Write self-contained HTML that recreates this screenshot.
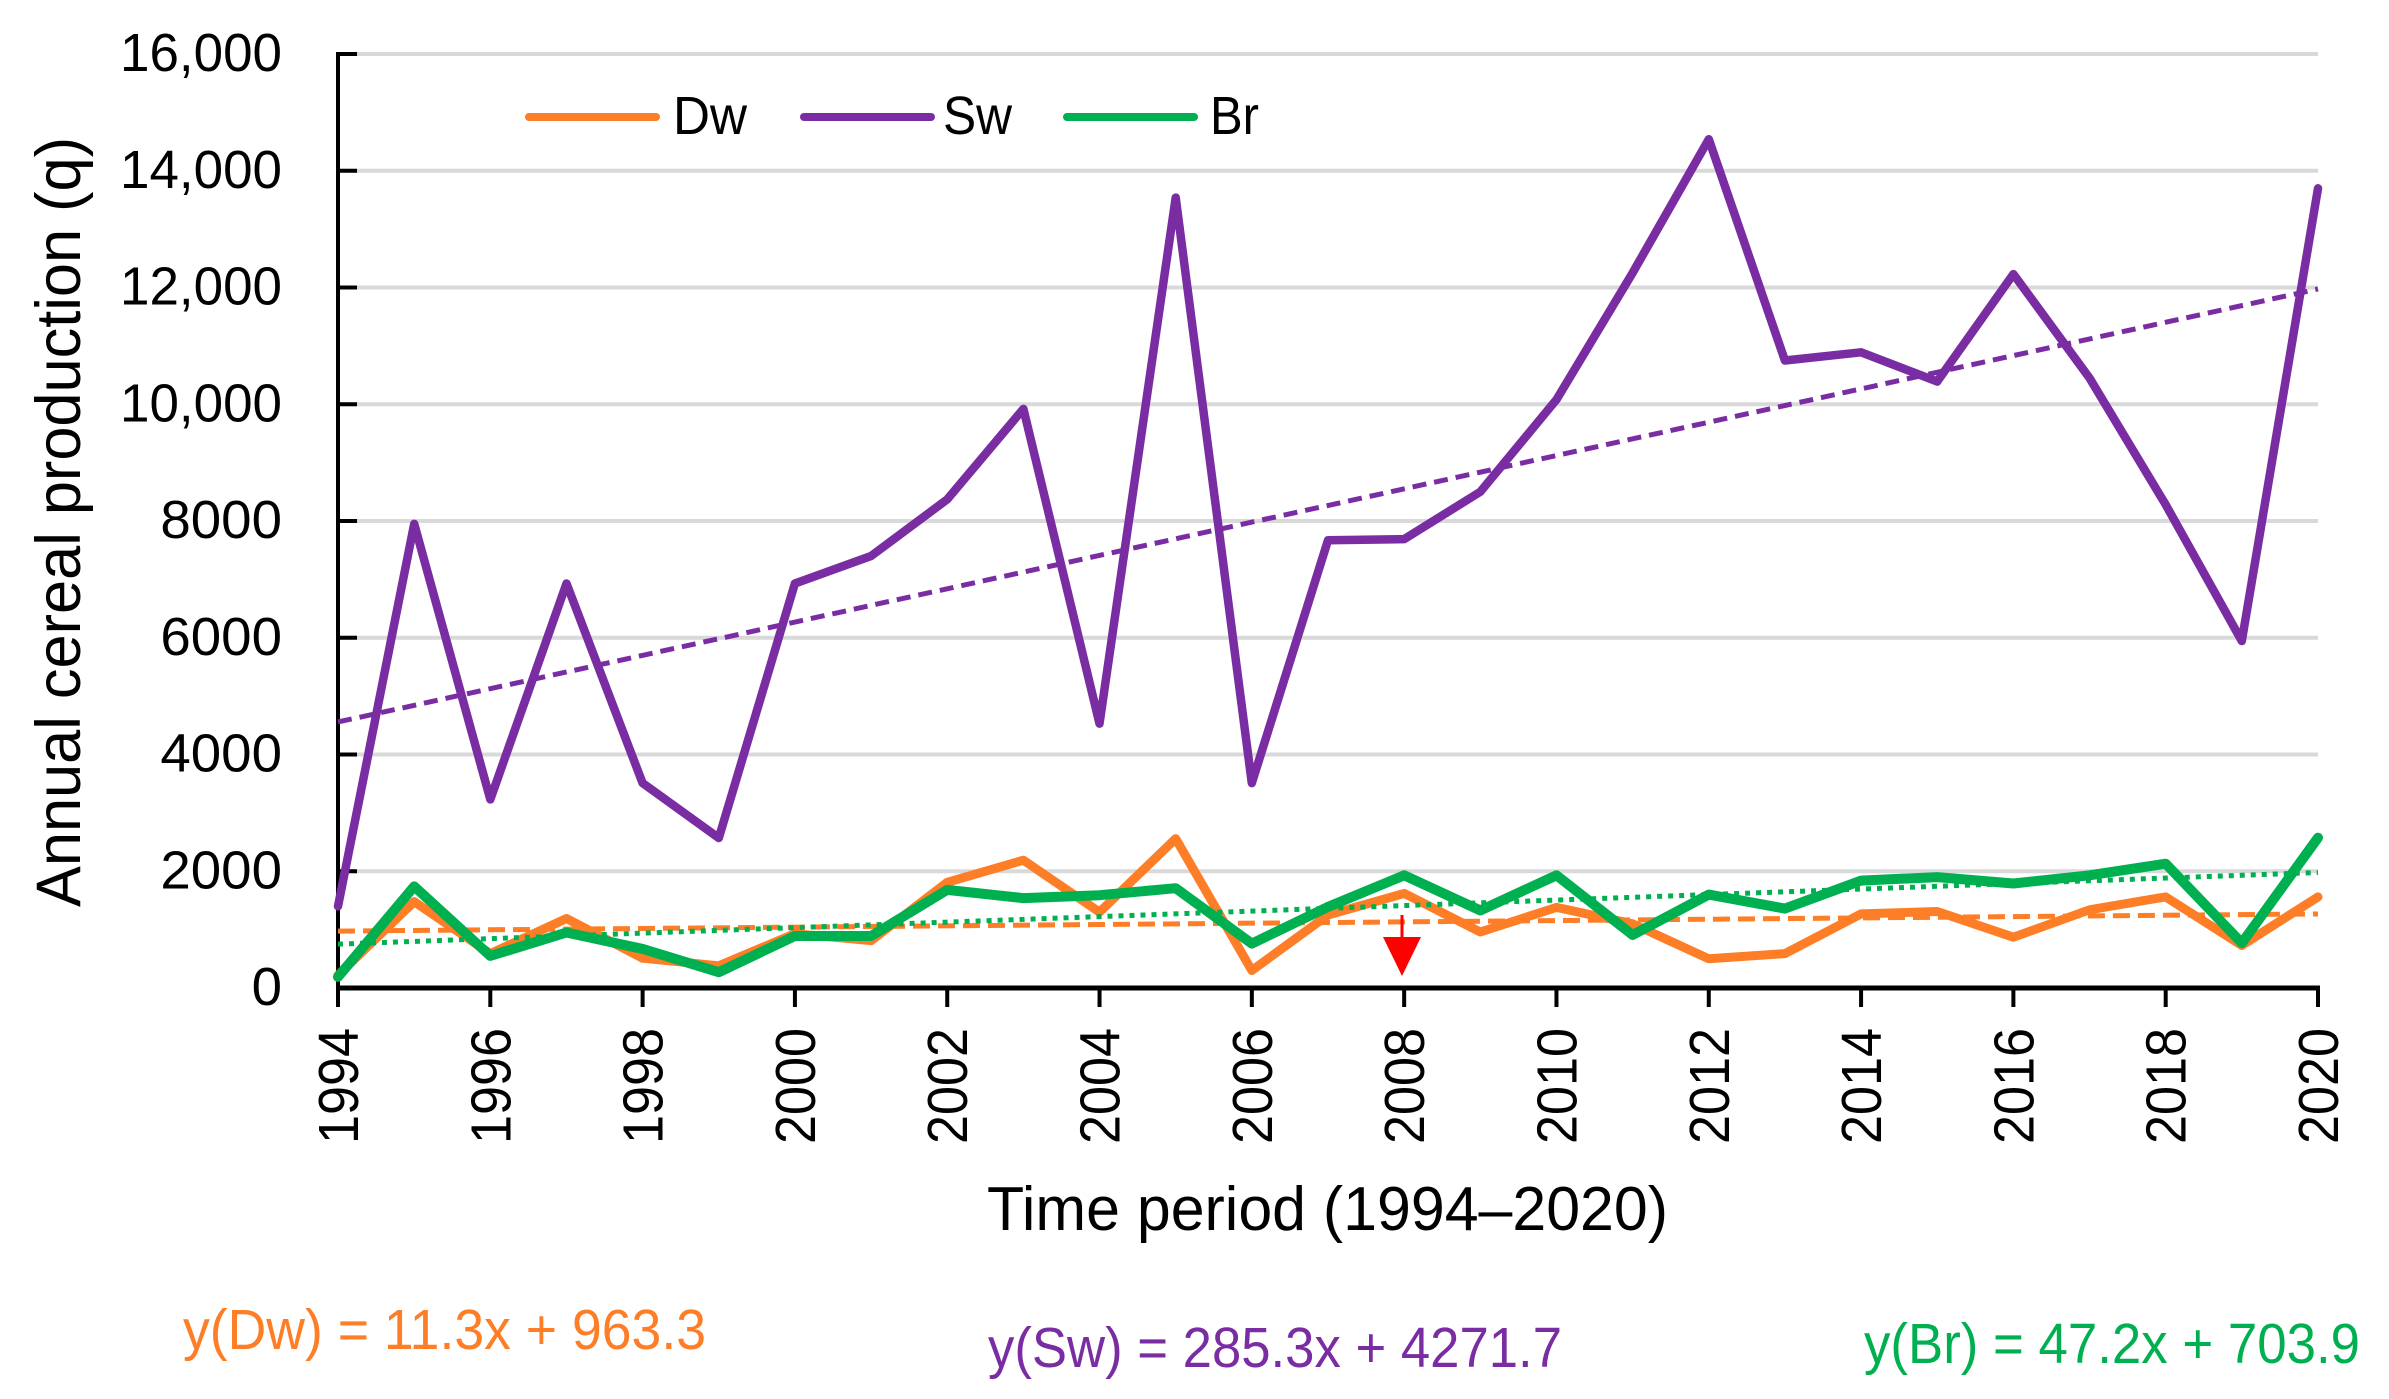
<!DOCTYPE html>
<html lang="en">
<head>
<meta charset="utf-8">
<title>Annual cereal production 1994–2020</title>
<style>
html,body{margin:0;padding:0;background:#fff;}
svg{display:block;}
text{font-family:"Liberation Sans",sans-serif;}
</style>
</head>
<body>
<svg id="chart" xmlns="http://www.w3.org/2000/svg" width="2389" height="1399" viewBox="0 0 2389 1399">
  <rect x="0" y="0" width="2389" height="1399" fill="#fff"/>
  <g id="grid"></g>
  <g id="axes"></g>
  <g id="marks"></g>

  <text transform="translate(80,907) rotate(-90)" font-size="63" fill="#000" textLength="770" lengthAdjust="spacingAndGlyphs">Annual cereal production (q)</text>
  <text x="987" y="1230" font-size="62" fill="#000" textLength="681" lengthAdjust="spacingAndGlyphs">Time period (1994–2020)</text>

  <g>
    <g>
      <line x1="529" y1="117" x2="656" y2="117" stroke="#fd7e26" stroke-width="8" stroke-linecap="round"/>
      <text x="673" y="134" font-size="54" fill="#000" textLength="74" lengthAdjust="spacingAndGlyphs">Dw</text>
    </g>
    <g>
      <line x1="804" y1="117" x2="931" y2="117" stroke="#7a2da3" stroke-width="8" stroke-linecap="round"/>
      <text x="943" y="134" font-size="54" fill="#000" textLength="69" lengthAdjust="spacingAndGlyphs">Sw</text>
    </g>
    <g>
      <line x1="1067" y1="117" x2="1194" y2="117" stroke="#00b050" stroke-width="8" stroke-linecap="round"/>
      <text x="1210" y="134" font-size="54" fill="#000" textLength="49" lengthAdjust="spacingAndGlyphs">Br</text>
    </g>
  </g>

  <text x="183" y="1349" font-size="57" fill="#fd7e26" textLength="523" lengthAdjust="spacingAndGlyphs">y(Dw) = 11.3x + 963.3</text>
  <text x="988" y="1367" font-size="57" fill="#7a2da3" textLength="574" lengthAdjust="spacingAndGlyphs">y(Sw) = 285.3x + 4271.7</text>
  <text x="1864" y="1363" font-size="57" fill="#00b050" textLength="496" lengthAdjust="spacingAndGlyphs">y(Br) = 47.2x + 703.9</text>

  <g>
    <line x1="1402" y1="915" x2="1402" y2="940" stroke="#ff0000" stroke-width="3"/>
    <polygon points="1383,937 1421,937 1402,976" fill="#ff0000"/>
  </g>
</svg>
<script>
const years = [1994,1995,1996,1997,1998,1999,2000,2001,2002,2003,2004,2005,2006,2007,2008,2009,2010,2011,2012,2013,2014,2015,2016,2017,2018,2019,2020];
const dwValues = [220,1480,590,1190,510,380,930,810,1810,2190,1300,2560,300,1250,1620,960,1380,1100,500,590,1270,1310,870,1340,1560,730,1560];
const swValues = [1400,7950,3230,6930,3510,2570,6930,7400,8370,9920,4530,13540,3510,7670,7690,8500,10080,12250,14540,10750,10890,10390,12230,10450,8280,5945,13700];
const brValues = [190,1740,550,950,670,270,890,890,1680,1540,1590,1710,760,1390,1930,1330,1930,910,1600,1360,1840,1900,1790,1930,2130,770,2575];
const trendSlopes = [11.3,285.3,47.2];
const trendIntercepts = [963.3,4271.7,703.9];
const yTickValues = [0,2000,4000,6000,8000,10000,12000,14000,16000];
const yTickLabels = ["0","2000","4000","6000","8000","10,000","12,000","14,000","16,000"];
const xTickYears = [1994,1996,1998,2000,2002,2004,2006,2008,2010,2012,2014,2016,2018,2020];

const NS = "http://www.w3.org/2000/svg";
const plot = {left:338, right:2318, top:54, bottom:988};
const xMin = years[0], xMax = years[years.length-1], yMax = 16000;
function xScale(year){ return plot.left + (year-xMin)/(xMax-xMin)*(plot.right-plot.left); }
function yScale(v){ return plot.bottom - v/yMax*(plot.bottom-plot.top); }
function make(tag, attrs, parent){
  const el = document.createElementNS(NS, tag);
  for (const k in attrs) el.setAttribute(k, attrs[k]);
  parent.appendChild(el);
  return el;
}
const grid = document.getElementById("grid");
const axes = document.getElementById("axes");
const marks = document.getElementById("marks");

yTickValues.forEach(function(v,i){
  if (v !== 0) {
    const g = make("line",{x1:plot.left,x2:plot.right,y1:yScale(v),y2:yScale(v),stroke:"#d9d9d9","stroke-width":4},grid);
    
    
    const t = make("line",{x1:plot.left,x2:plot.left+19,y1:yScale(v),y2:yScale(v),stroke:"#000","stroke-width":4},axes);
    
    
  }
  const s = yTickLabels[i];
  const digits = s.replace(/,/g,"").length;
  const w = digits*30.4 + (s.indexOf(",")>=0 ? 10 : 0);
  const lab = make("text",{x:282,y:yScale(v)+17,"text-anchor":"end","font-size":54,fill:"#000",textLength:w,lengthAdjust:"spacingAndGlyphs"},axes);
  
  
  lab.textContent = s;
});

const yAxis = make("line",{x1:plot.left,x2:plot.left,y1:plot.top-2,y2:plot.bottom+2,stroke:"#000","stroke-width":4},axes);


const xAxis = make("line",{x1:plot.left-2,x2:plot.right+2,y1:plot.bottom,y2:plot.bottom,stroke:"#000","stroke-width":5},axes);



xTickYears.forEach(function(yr){
  const x = xScale(yr);
  const t = make("line",{x1:x,x2:x,y1:plot.bottom,y2:plot.bottom+19,stroke:"#000","stroke-width":4},axes);
  
  
  const lab = make("text",{transform:"translate("+(x+20)+",1144) rotate(-90)","font-size":57,fill:"#000",textLength:116,lengthAdjust:"spacingAndGlyphs"},axes);
  
  
  lab.textContent = String(yr);
});

function seriesPoints(values){
  return values.map(function(v,i){ return xScale(years[i]).toFixed(1)+","+yScale(v).toFixed(1); }).join(" ");
}
function lineAttrs(values,color,width){
  return {points:seriesPoints(values),fill:"none",stroke:color,"stroke-width":width,"stroke-linejoin":"round","stroke-linecap":"round"};
}
function trendAttrs(idx,color,dash,width){
  const n = years.length;
  return {x1:xScale(years[0]),y1:yScale(trendIntercepts[idx]+trendSlopes[idx]*1),
          x2:xScale(years[n-1]),y2:yScale(trendIntercepts[idx]+trendSlopes[idx]*n),
          stroke:color,"stroke-width":width,"stroke-dasharray":dash};
}

const lineDw = make("polyline",lineAttrs(dwValues,"#fd7e26",9),marks);


const lineSw = make("polyline",lineAttrs(swValues,"#7a2da3",8.5),marks);


const trendDw = make("line",trendAttrs(0,"#fd7e26","17 8",5),marks);


const trendSw = make("line",trendAttrs(1,"#7a2da3","14 8",5),marks);


const trendBr = make("line",trendAttrs(2,"#00b050","5 6",5),marks);


const lineBr = make("polyline",lineAttrs(brValues,"#00b050",10),marks);


</script>
</body>
</html>
